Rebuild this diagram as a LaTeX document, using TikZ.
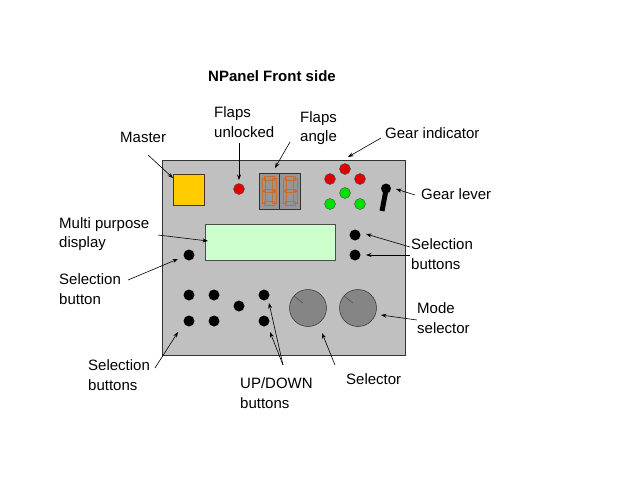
\documentclass[tikz,border=0pt]{standalone}
\usepackage{fontspec}
\setmainfont{Liberation Sans}
\usetikzlibrary{arrows.meta}
\definecolor{panelgray}{HTML}{C0C0C0}
\definecolor{masteryellow}{HTML}{FFCC00}
\definecolor{lcdgreen}{HTML}{CCFFCC}
\definecolor{ledred}{HTML}{E00000}
\definecolor{ledgreen}{HTML}{00E000}
\definecolor{knobgray}{HTML}{858585}
\definecolor{segbg}{HTML}{969696}
\definecolor{segorange}{HTML}{C86E30}
\definecolor{segfill}{HTML}{B87E5C}
\begin{document}
\begin{tikzpicture}[x=1pt,y=-1pt,
  lbl/.style={inner sep=0pt,anchor=west,align=left,font=\fontsize{15}{19.5}\selectfont},
  callout/.style={draw=black,line width=0.6pt,-{Stealth[length=5.5pt,width=4pt]}},
  led/.style={circle,draw=black!70,line width=0.4pt,minimum size=11pt,inner sep=0pt},
  btn/.style={circle,fill=black,minimum size=11pt,inner sep=0pt},
  knob/.style={circle,draw=black!80,fill=knobgray,line width=0.5pt,minimum size=37pt,inner sep=0pt},
  seg/.style={draw=segorange,fill=segfill,line width=0.6pt}]
\useasboundingbox (0,0) rectangle (640,480);
\fill[white] (0,0) rectangle (640,480);

% panel
\node[draw=black!80,fill=panelgray,line width=0.6pt,minimum width=243pt,minimum height=195pt,inner sep=0pt] (panel) at (283.5,257.5) {};

% master
\node[draw=black!60!brown,fill=masteryellow,line width=0.5pt,minimum width=31pt,minimum height=31pt,inner sep=0pt] (master) at (188.5,189.5) {};

% flaps unlocked led
\node[led,fill=ledred] (flapled) at (239,189) {};

% flaps angle display
\node[draw=black!80,fill=segbg,line width=0.5pt,minimum width=41pt,minimum height=36pt,inner sep=0pt] (flapdisp) at (279.5,191) {};
\draw[black!80,line width=0.5pt] (flapdisp.north) -- (flapdisp.south);
\foreach \xo in {262,283}{
  \begin{scope}[seg]
    \draw (\xo+2,176.5) rectangle (\xo+12,180);
    \draw (\xo+2,189) rectangle (\xo+12,192.5);
    \draw (\xo+2,201.5) rectangle (\xo+12,205);
    \draw (\xo,178) rectangle (\xo+3.5,190);
    \draw (\xo+10.5,178) rectangle (\xo+14,190);
    \draw (\xo,191.5) rectangle (\xo+3.5,203.5);
    \draw (\xo+10.5,191.5) rectangle (\xo+14,203.5);
  \end{scope}
}

% gear indicator
\node[led,fill=ledred] (gr1) at (345,169) {};
\node[led,fill=ledred] (gr2) at (330,179) {};
\node[led,fill=ledred] (gr3) at (360,179) {};
\node[led,fill=ledgreen] (gg1) at (345,193) {};
\node[led,fill=ledgreen] (gg2) at (330,204) {};
\node[led,fill=ledgreen] (gg3) at (360,204) {};

% gear lever
\draw[black,line width=5pt] (386,190) -- (382,211);
\node[circle,fill=black,minimum size=10pt,inner sep=0pt] (lever) at (386,188.5) {};

% multi purpose display
\node[draw=black!70,fill=lcdgreen,line width=0.5pt,minimum width=130pt,minimum height=36pt,inner sep=0pt] (mpd) at (270,242) {};

% buttons
\node[btn] (rb1) at (355,235) {};
\node[btn] (rb2) at (355,255) {};
\node[btn] (lb) at (189,255) {};
\node[btn] (b1) at (189,295) {};
\node[btn] (b2) at (214,295) {};
\node[btn] (b3) at (189,321) {};
\node[btn] (b4) at (214,321) {};
\node[btn] (b5) at (239,306) {};
\node[btn] (up) at (264,295) {};
\node[btn] (down) at (264,321) {};

% knobs
\node[knob] (sel) at (308,308) {};
\node[knob] (mode) at (358,308) {};
\draw[black!70,line width=0.5pt] (294,296) -- (303,303);
\draw[black!70,line width=0.5pt] (344,296) -- (353,303);

% texts
\node[inner sep=0pt,font=\fontsize{15}{18}\selectfont\bfseries] (title) at (272,76) {NPanel Front side};
\node[lbl] (tmaster) at (120,137) {Master};
\node[lbl] (tflapsu) at (214,122) {Flaps\\unlocked};
\node[lbl] (tflapsa) at (300,128) {Flaps\\angle};
\node[lbl] (tgear) at (385,133) {Gear indicator};
\node[lbl] (tlever) at (421,194) {Gear lever};
\node[lbl] (tmpd) at (59,234) {Multi purpose\\display};
\node[lbl] (tselb) at (59,289) {Selection\\button};
\node[lbl] (tselr) at (411,254) {Selection\\buttons};
\node[lbl] (tmode) at (417,318) {Mode\\selector};
\node[lbl] (tselbl) at (88,375) {Selection\\buttons};
\node[lbl] (tupdown) at (240,393) {UP/DOWN\\buttons};
\node[lbl] (tsel) at (346,379) {Selector};

% arrow coordinates
\coordinate (aMs) at (148,155);  \coordinate (aMe) at (173,178);
\coordinate (aFUs) at (239,143); \coordinate (aFUe) at (239,180);
\coordinate (aFAs) at (290,142); \coordinate (aFAe) at (275,168);
\coordinate (aGIs) at (381,138); \coordinate (aGIe) at (348,157);
\coordinate (aGLs) at (415,195); \coordinate (aGLe) at (396,189);
\coordinate (aMPs) at (158,235); \coordinate (aMPe) at (208,241);
\coordinate (aSBs) at (128,280); \coordinate (aSBe) at (178,259);
\coordinate (aSR1s) at (410,247); \coordinate (aSR1e) at (366,234);
\coordinate (aSR2s) at (410,255); \coordinate (aSR2e) at (366,255);
\coordinate (aMOs) at (417,320); \coordinate (aMOe) at (381,315);
\coordinate (aSEs) at (335,365); \coordinate (aSEe) at (322,333);
\coordinate (aUDs) at (283,365); \coordinate (aU1e) at (269,303); \coordinate (aU2e) at (270,332);
\coordinate (aSLs) at (155,368); \coordinate (aSLe) at (178,332);

\draw[callout] (aMs) -- (aMe);
\draw[callout] (aFUs) -- (aFUe);
\draw[callout] (aFAs) -- (aFAe);
\draw[callout] (aGIs) -- (aGIe);
\draw[callout] (aGLs) -- (aGLe);
\draw[callout] (aMPs) -- (aMPe);
\draw[callout] (aSBs) -- (aSBe);
\draw[callout] (aSR1s) -- (aSR1e);
\draw[callout] (aSR2s) -- (aSR2e);
\draw[callout] (aMOs) -- (aMOe);
\draw[callout] (aSEs) -- (aSEe);
\draw[callout] (aUDs) -- (aU1e);
\draw[callout] (aUDs) -- (aU2e);
\draw[callout] (aSLs) -- (aSLe);
\end{tikzpicture}
\end{document}
